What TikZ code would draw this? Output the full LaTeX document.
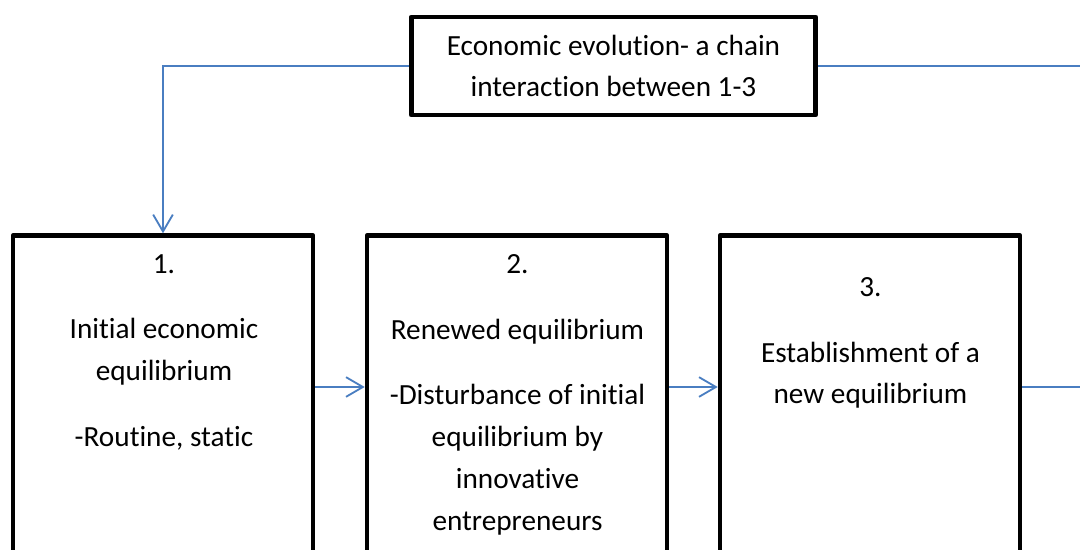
\documentclass[tikz,border=0pt]{standalone}
\usepackage{fontspec}
\setmainfont[Ligatures=NoCommon]{Carlito}
\usetikzlibrary{arrows.meta}

\definecolor{linkblue}{RGB}{74,126,193}

\tikzset{
  stagebox/.style={draw, line width=3.2pt, line join=round, minimum width=7.5cm, minimum height=10cm, anchor=north},
  boxtext/.style={align=center, anchor=north, inner sep=0pt, font=\fontsize{20.8}{29.8}\selectfont},
  plainlink/.style={draw=linkblue, line width=1.3pt},
  link/.style={plainlink, -{Straight Barb[length=12pt,width=14pt]}},
}

\begin{document}
\begin{tikzpicture}[x=0.025cm, y=-0.025cm]
    \useasboundingbox (0,0) rectangle (1080,550);
    \clip (0,0) rectangle (1080,550);

    % Chain header
    \node[draw, line width=3.2pt, line join=round, align=center, minimum width=10.1cm, minimum height=2.46cm,
          font=\fontsize{20.8}{29.8}\selectfont] (top) at (613.5,66)
          {Economic evolution- a chain\\ interaction between 1-3};

    % The three stages
    \node[stagebox] (box1) at (163,233.3) {};
    \node[stagebox] (box2) at (517,233.3) {};
    \node[stagebox] (box3) at (870,233.3) {};

    \node[boxtext] (txt1) at (164,254) {1.\\[17pt] Initial economic\\ equilibrium\\[17pt] -Routine, static};
    \node[boxtext] (txt2) at (517.5,254) {2.\\[17pt] Renewed equilibrium\\[17pt] -Disturbance of initial\\ equilibrium by\\ innovative\\ entrepreneurs};
    \node[boxtext] (txt3) at (870.5,277) {3.\\[17pt] Establishment of a\\ new equilibrium};

    % Loop lines
    \coordinate (edge) at (1080,66);
    \coordinate (row) at (0,387);

    \draw[link] (top.west) -| (box1.north);
    \draw[plainlink] (top.east) -- (edge);
    \draw[link] (box1.east |- row) -- (box2.west |- row);
    \draw[link] (box2.east |- row) -- (box3.west |- row);
    \draw[plainlink] (box3.east |- row) -- (edge |- row);
\end{tikzpicture}
\end{document}
